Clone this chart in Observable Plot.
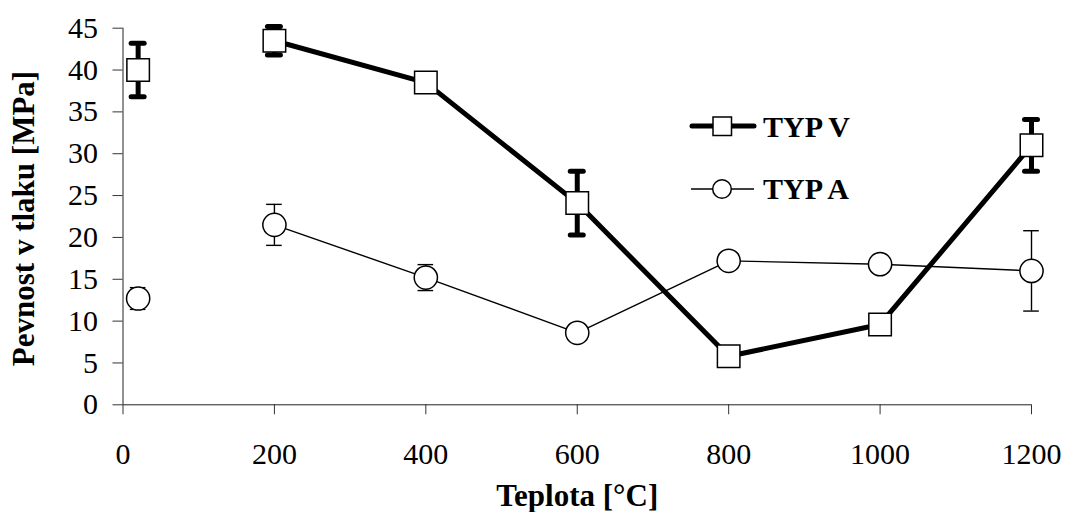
<!DOCTYPE html>
<html>
<head>
<meta charset="utf-8">
<script src="https://cdn.jsdelivr.net/npm/d3@7"></script>
<script src="https://cdn.jsdelivr.net/npm/@observablehq/plot@0.6"></script>
<style>
  html, body { margin: 0; padding: 0; background: white; }
</style>
</head>
<body>
<div id="chart"></div>
<script>
// ---- data ----
const temps   = [20, 200, 400, 600, 800, 1000, 1200];
const typV    = [40.0, 43.5, 38.5, 24.1, 5.8, 9.6, 31.0];
const typVErr = [3.2, 1.7, 0, 3.8, 0, 0, 3.1];
const typA    = [12.7, 21.5, 15.2, 8.6, 17.2, 16.8, 16.0];
const typAErr = [1.3, 2.45, 1.55, 0, 0, 0, 4.8];
const xTicks  = [0, 200, 400, 600, 800, 1000, 1200];
const yTicks  = [0, 5, 10, 15, 20, 25, 30, 35, 40, 45];
const seriesNames = ["TYP V", "TYP A"];
const xLabel = "Teplota [°C]";
const yLabel = "Pevnost v tlaku [MPa]";

const rowsV = temps.map((t, i) => ({t, v: typV[i], e: typVErr[i]}));
const rowsA = temps.map((t, i) => ({t, v: typA[i], e: typAErr[i]}));
const connected = d => d.t >= 200; // room-temperature point is not joined
const withErr = d => d.e > 0;

const font = "Liberation Serif, Times New Roman, serif";

const chart = Plot.plot({
  width: 1066,
  height: 512,
  marginLeft: 122.5,
  marginRight: 35,
  marginTop: 27.7,
  marginBottom: 107.7,
  style: {fontFamily: font, fontSize: "30px", background: "white", color: "black"},
  x: {domain: [0, 1200]},
  y: {domain: [0, 45]},
  marks: [
    Plot.axisY({ticks: yTicks, tickSize: 10, tickPadding: 15, tickFormat: d3.format("d"), label: null, stroke: "#333", fontSize: 30, fontFamily: font}),
    Plot.axisX({ticks: xTicks, tickSize: 10, tickPadding: 27.4, tickFormat: d3.format("d"), label: null, stroke: "#333", fontSize: 30, fontFamily: font}),
    Plot.ruleX([0], {stroke: "#222"}),
    Plot.ruleY([0], {stroke: "#222"}),
    // lines
    Plot.line(rowsA.filter(connected), {x: "t", y: "v", stroke: "black", strokeWidth: 1.4}),
    Plot.line(rowsV.filter(connected), {x: "t", y: "v", stroke: "black", strokeWidth: 5}),
    // error bars TYP A
    Plot.ruleX(rowsA.filter(withErr), {x: "t", y1: d => d.v - d.e, y2: d => d.v + d.e, stroke: "black", strokeWidth: 1.4}),
    Plot.ruleY(rowsA.filter(withErr), {x1: "t", x2: "t", y: d => d.v + d.e, insetLeft: -7.8, insetRight: -7.8, stroke: "black", strokeWidth: 1.4}),
    Plot.ruleY(rowsA.filter(withErr), {x1: "t", x2: "t", y: d => d.v - d.e, insetLeft: -7.8, insetRight: -7.8, stroke: "black", strokeWidth: 1.4}),
    // error bars TYP V
    Plot.ruleX(rowsV.filter(withErr), {x: "t", y1: d => d.v - d.e, y2: d => d.v + d.e, stroke: "black", strokeWidth: 5}),
    Plot.ruleY(rowsV.filter(withErr), {x1: "t", x2: "t", y: d => d.v + d.e, insetLeft: -6.5, insetRight: -6.5, stroke: "black", strokeWidth: 5, strokeLinecap: "round"}),
    Plot.ruleY(rowsV.filter(withErr), {x1: "t", x2: "t", y: d => d.v - d.e, insetLeft: -6.5, insetRight: -6.5, stroke: "black", strokeWidth: 5, strokeLinecap: "round"}),
    // markers
    Plot.dot(rowsA, {x: "t", y: "v", r: 11.6, fill: "white", stroke: "black", strokeWidth: 1.5}),
    Plot.dot(rowsV, {x: "t", y: "v", symbol: "square", r: 12.7, fill: "white", stroke: "black", strokeWidth: 1.5}),
    // axis titles
    Plot.text([xLabel], {text: d => d, frameAnchor: "bottom", textAnchor: "middle", lineAnchor: "middle", dy: 91, fontWeight: "bold", fontSize: 31, fontFamily: font, fill: "black"}),
    Plot.text([yLabel], {text: d => d, frameAnchor: "left", textAnchor: "middle", lineAnchor: "middle", rotate: -90, dx: -98.5, dy: 2, fontWeight: "bold", fontSize: 31, fontFamily: font, fill: "black"})
  ]
});

// legend drawn into the same svg
const svg = d3.select(chart);
const lg = svg.append("g").attr("font-family", font).attr("font-weight", "bold")
  .attr("font-size", 30).attr("text-anchor", "start");
// TYP V
lg.append("line").attr("x1", 692).attr("x2", 754).attr("y1", 126).attr("y2", 126)
  .attr("stroke", "black").attr("stroke-width", 5).attr("stroke-linecap", "round");
lg.append("rect").attr("x", 713).attr("y", 117).attr("width", 18.5).attr("height", 18.5)
  .attr("fill", "white").attr("stroke", "black").attr("stroke-width", 1.5);
lg.append("text").attr("x", 763).attr("y", 136.5).text(seriesNames[0]);
// TYP A
lg.append("line").attr("x1", 691).attr("x2", 754).attr("y1", 189).attr("y2", 189)
  .attr("stroke", "black").attr("stroke-width", 1.4);
lg.append("circle").attr("cx", 722).attr("cy", 189).attr("r", 9.3)
  .attr("fill", "white").attr("stroke", "black").attr("stroke-width", 1.5);
lg.append("text").attr("x", 763).attr("y", 199).text(seriesNames[1]);

document.getElementById("chart").append(chart);
</script>
</body>
</html>
